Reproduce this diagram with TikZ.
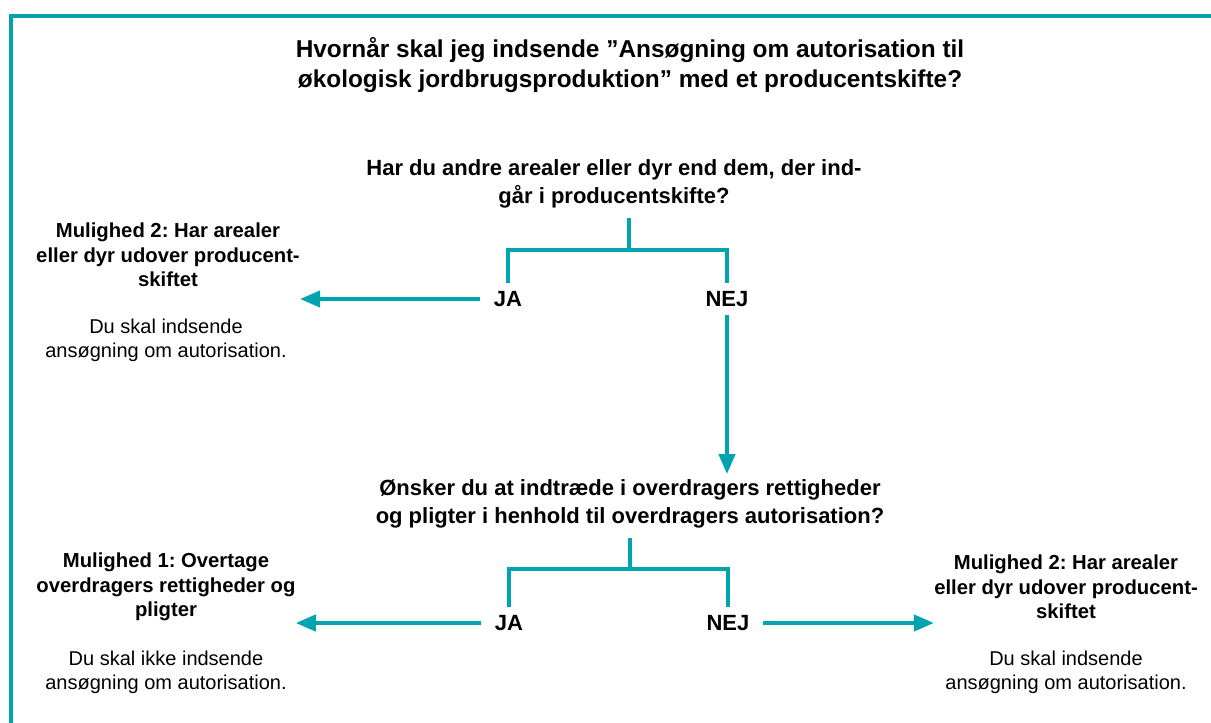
\documentclass[tikz,border=0pt]{standalone}
\usepackage{fontspec}
\setsansfont{Liberation Sans}
\usepackage{tikz}
\usetikzlibrary{arrows.meta,positioning}
\definecolor{flowteal}{RGB}{0,164,174}
\frenchspacing

\begin{document}
\begin{tikzpicture}[x=0.75pt, y=-0.75pt,
    treenode/.style = {align=center, inner sep=0pt, text centered, font=\sffamily},
    title/.style = {treenode, font=\sffamily\bfseries\fontsize{18.3}{22.5}\selectfont},
    question/.style = {treenode, inner sep=4pt, font=\sffamily\bfseries\fontsize{16.5}{21}\selectfont},
    answer/.style = {treenode, inner xsep=10pt, inner ysep=6pt, font=\sffamily\bfseries\fontsize{16.5}{21}\selectfont},
    option/.style = {treenode, font=\sffamily\bfseries\fontsize{15.2}{18.2}\selectfont},
    note/.style = {treenode, font=\sffamily\fontsize{15}{18.2}\selectfont},
    branch/.style = {draw=flowteal, line width=3pt},
    pointer/.style = {branch, -{Triangle[length=15pt,width=12pt]}}]
\useasboundingbox (0,0) rectangle (1211,722);
\draw[flowteal, line width=3pt] (1215,16) -- (11,16) -- (11,726);

\node [title] (title) at (630,65) {Hvornår skal jeg indsende ”Ansøgning om autorisation til\\økologisk jordbrugsproduktion” med et producentskifte?};

% first question
\node [question] (q1) at (614,184) {Har du andre arealer eller dyr end dem, der ind-\\går i producentskifte?};
\node [answer] (ja1) at (508,299) {JA};
\node [answer] (nej1) at (727,299) {NEJ};
\node [option] (opt2a) at (168,255) {Mulighed 2: Har arealer\\eller dyr udover producent-\\skiftet};
\node [note] (note2a) at (166,340) {Du skal indsende\\ansøgning om autorisation.};

% second question
\node [question] (q2) at (630,504) {Ønsker du at indtræde i overdragers rettigheder\\og pligter i henhold til overdragers autorisation?};
\node [answer] (ja2) at (509,623) {JA};
\node [answer] (nej2) at (728,623) {NEJ};
\node [option] (opt1) at (166,587) {Mulighed 1: Overtage\\overdragers rettigheder og\\pligter};
\node [note] (note1) at (166,672) {Du skal ikke indsende\\ansøgning om autorisation.};
\node [option] (opt2b) at (1066,587) {Mulighed 2: Har arealer\\eller dyr udover producent-\\skiftet};
\node [note] (note2b) at (1066,672) {Du skal indsende\\ansøgning om autorisation.};

\coordinate (s1) at (629,250);
\draw [branch] ([yshift=-3pt]q1.south -| s1) -- (s1);
\draw [branch] (ja1.north) |- (s1) -| (nej1.north);
\draw [pointer] (ja1.west) -- (ja1.west -| opt2a.east);
\draw [pointer] (nej1.south) -- (nej1.south |- q2.north);

\coordinate (s2) at (630,569);
\draw [branch] ([yshift=-3pt]q2.south -| s2) -- (s2);
\draw [branch] (ja2.north) |- (s2) -| (nej2.north);
\draw [pointer] (ja2.west) -- (ja2.west -| opt1.east);
\draw [pointer] (nej2.east) -- (nej2.east -| opt2b.west);
\end{tikzpicture}
\end{document}
